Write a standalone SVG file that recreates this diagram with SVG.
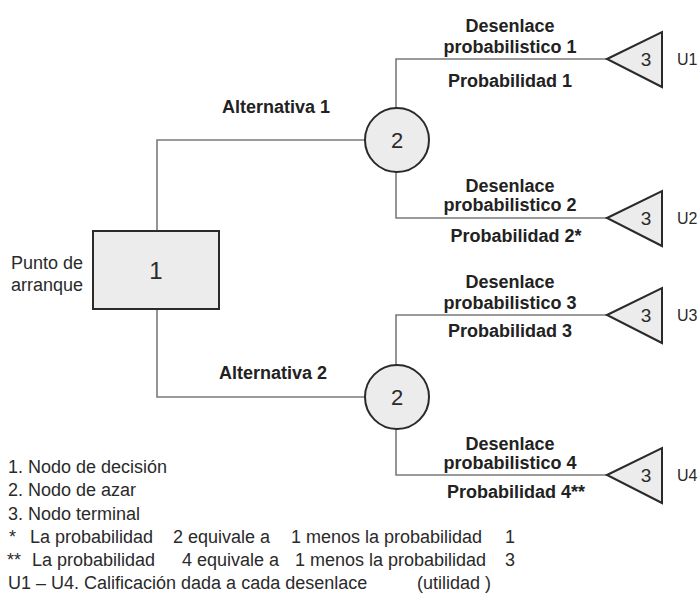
<svg xmlns="http://www.w3.org/2000/svg" width="699" height="602" viewBox="0 0 699 602">
<style>
.ln{fill:none;stroke:#7a7a7a;stroke-width:1.6}
.shp{fill:#ececec;stroke:#2a2a2a;stroke-width:2}
.b{font-family:"Liberation Sans",Arial,sans-serif;font-weight:bold;font-size:18px;fill:#222;text-anchor:middle}
.r{font-family:"Liberation Sans",Arial,sans-serif;font-size:18px;fill:#2a2a2a}
.u{font-family:"Liberation Sans",Arial,sans-serif;font-size:16px;fill:#2a2a2a}
.n{font-family:"Liberation Sans",Arial,sans-serif;fill:#2a2a2a;text-anchor:middle}
</style>
<rect width="699" height="602" fill="#fff"/>
<g id="connectors">
<path class="ln" d="M157,231 V140 H365"/>
<path class="ln" d="M157,309 V397 H366"/>
<path class="ln" d="M396,108 V59 H607"/>
<path class="ln" d="M396,172 V218 H607"/>
<path class="ln" d="M396,365 V315 H607"/>
<path class="ln" d="M396,429 V475 H607"/>
</g>
<g id="decision">
<rect class="shp" x="93" y="231" width="126" height="78"/>
<text class="n" x="156" y="279" font-size="24">1</text>
<text class="r" x="83" y="269" text-anchor="end">Punto de</text>
<text class="r" x="83" y="291" text-anchor="end">arranque</text>
</g>
<g id="chance1">
<circle class="shp" cx="397" cy="140" r="32"/>
<text class="n" x="397" y="148" font-size="22">2</text>
</g>
<g id="chance2">
<circle class="shp" cx="397" cy="397" r="32"/>
<text class="n" x="397" y="405" font-size="22">2</text>
</g>
<g id="term1">
<polygon class="shp" points="607,59 662,32 662,87"/>
<text class="n" x="646" y="66" font-size="19">3</text>
<text class="u" x="677" y="65">U1</text>
</g>
<g id="term2">
<polygon class="shp" points="607,218 662,191 662,246"/>
<text class="n" x="646" y="225" font-size="19">3</text>
<text class="u" x="677" y="224">U2</text>
</g>
<g id="term3">
<polygon class="shp" points="607,315 662,288 662,343"/>
<text class="n" x="646" y="322" font-size="19">3</text>
<text class="u" x="677" y="321">U3</text>
</g>
<g id="term4">
<polygon class="shp" points="607,475 662,448 662,503"/>
<text class="n" x="646" y="482" font-size="19">3</text>
<text class="u" x="677" y="481">U4</text>
</g>
<g id="labels">
<text class="b" x="276" y="113">Alternativa 1</text>
<text class="b" x="273" y="379">Alternativa 2</text>
<text class="b" x="510" y="32">Desenlace</text>
<text class="b" x="510" y="53">probabilistico 1</text>
<text class="b" x="510" y="87">Probabilidad 1</text>
<text class="b" x="510" y="192">Desenlace</text>
<text class="b" x="510" y="211">probabilistico 2</text>
<text class="b" x="516" y="242">Probabilidad 2*</text>
<text class="b" x="510" y="288">Desenlace</text>
<text class="b" x="510" y="309">probabilistico 3</text>
<text class="b" x="510" y="337">Probabilidad 3</text>
<text class="b" x="510" y="450">Desenlace</text>
<text class="b" x="510" y="469">probabilistico 4</text>
<text class="b" x="516" y="498">Probabilidad 4**</text>
</g>
<g id="legend">
<text class="r" x="8" y="473">1. Nodo de decisión</text>
<text class="r" x="8" y="496">2. Nodo de azar</text>
<text class="r" x="8" y="520">3. Nodo terminal</text>
<text class="r" y="543"><tspan x="9">*</tspan><tspan x="30">La probabilidad</tspan><tspan x="173">2 equivale a</tspan><tspan x="291">1 menos la probabilidad</tspan><tspan x="505">1</tspan></text>
<text class="r" y="566"><tspan x="7">**</tspan><tspan x="32">La probabilidad</tspan><tspan x="182">4 equivale a</tspan><tspan x="295">1 menos la probabilidad</tspan><tspan x="505">3</tspan></text>
<text class="r" y="589"><tspan x="8">U1 – U4. Calificación dada a cada desenlace</tspan><tspan x="417">(utilidad )</tspan></text>
</g>
</svg>
